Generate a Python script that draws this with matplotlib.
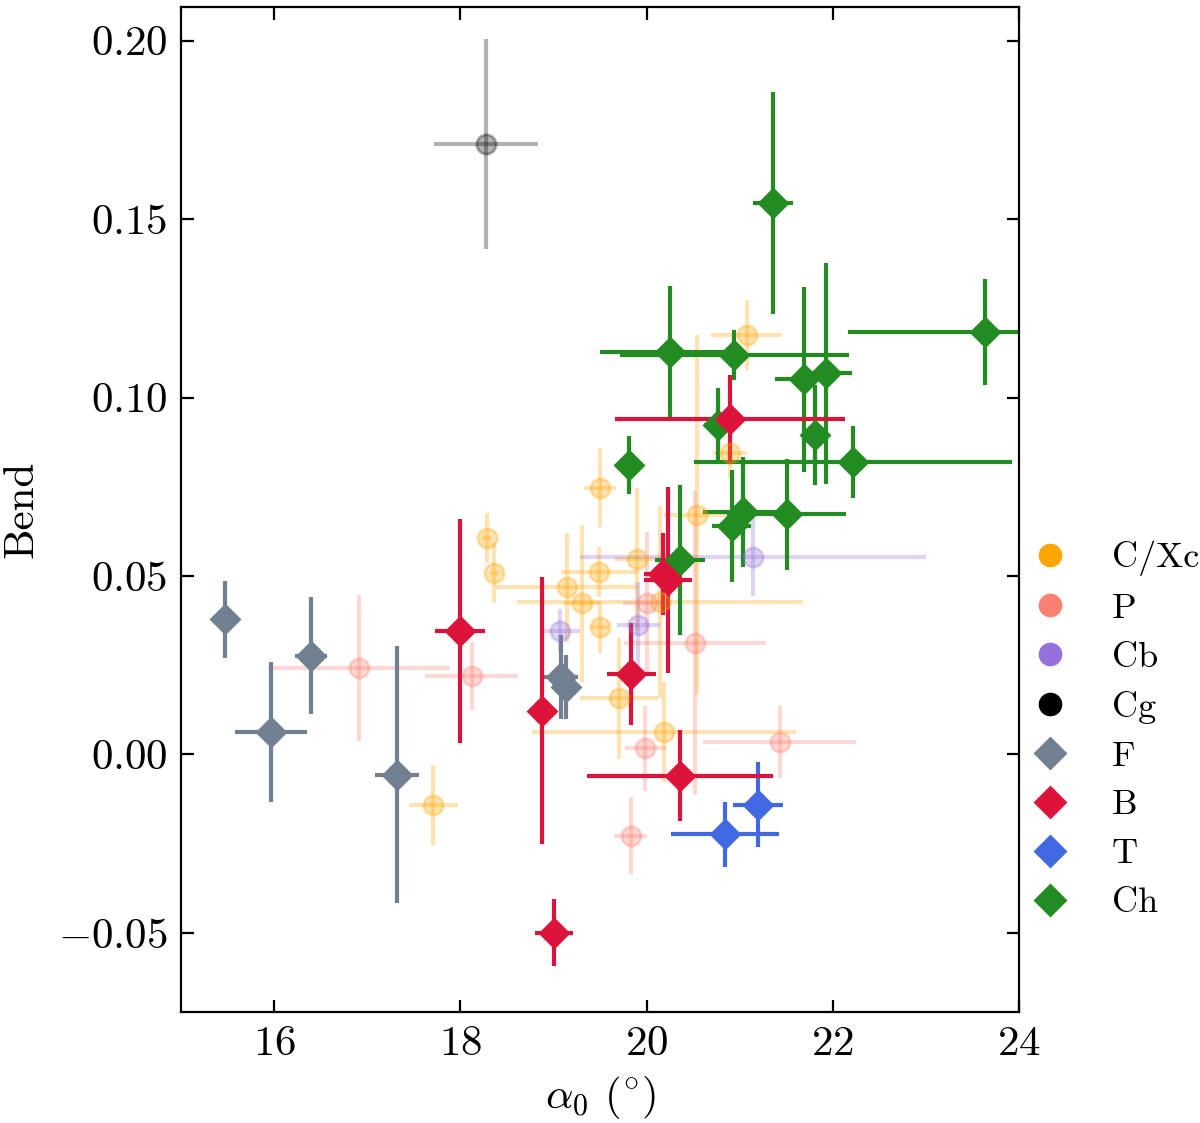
import matplotlib
matplotlib.use("Agg")
import matplotlib.pyplot as plt
from matplotlib.lines import Line2D

plt.rcParams['font.family'] = 'serif'
plt.rcParams['font.serif'] = ['cmr10']
plt.rcParams['mathtext.fontset'] = 'cm'
plt.rcParams['axes.formatter.use_mathtext'] = True
plt.rcParams['axes.unicode_minus'] = True
plt.rcParams['font.size'] = 15.5

# C/Xc
cx_x = [19.50, 18.284, 18.365, 19.143, 19.304, 19.493, 19.901, 19.50, 19.708, 20.539, 20.897, 20.185, 17.71, 21.076, 20.145]
cx_y = [0.0748, 0.0606, 0.0508, 0.0468, 0.0424, 0.0512, 0.0547, 0.0357, 0.0157, 0.067, 0.0844, 0.0064, -0.0142, 0.1175, 0.0427]
cx_xerr = [0.17, 0.05, 0.05, 0.76, 0.19, 0.41, 0.24, 0.10, 0.42, 0.35, 0.18, 1.42, 0.26, 0.38, 1.54]
cx_yerr = [0.0112, 0.007, 0.0084, 0.0152, 0.022, 0.007, 0.02, 0.0074, 0.017, 0.0504, 0.007, 0.014, 0.0113, 0.0097, 0.027]

# P
p_x = [16.909, 18.122, 20.002, 20.521, 19.984, 19.83, 21.431]
p_y = [0.0242, 0.022, 0.0424, 0.0313, 0.0017, -0.0228, 0.0035]
p_xerr = [0.98, 0.5, 0.25, 0.76, 0.22, 0.18, 0.82]
p_yerr = [0.0205, 0.0096, 0.02, 0.0426, 0.0118, 0.0108, 0.0102]

# Cb
cb_x = [19.071, 19.912, 21.147]
cb_y = [0.0347, 0.0363, 0.0554]
cb_xerr = [0.21, 0.23, 1.86]
cb_yerr = [0.006, 0.012, 0.0109]

# Cg
cg_x = [18.276]
cg_y = [0.1711]
cg_xerr = [0.56]
cg_yerr = [0.0294]

# F
f_x = [15.473, 15.967, 16.396, 17.32, 19.076, 19.135]
f_y = [0.0379, 0.0062, 0.0277, -0.0057, 0.0217, 0.0189]
f_xerr = [0.0, 0.39, 0.17, 0.24, 0.19, 0.155]
f_yerr = [0.0108, 0.0196, 0.0163, 0.036, 0.0118, 0.0089]

# B
b_x = [17.994, 18.881, 19.006, 19.837, 20.177, 20.231, 20.363, 20.897]
b_y = [0.0346, 0.0123, -0.0499, 0.0226, 0.0506, 0.0489, -0.0059, 0.0939]
b_xerr = [0.27, 0.0, 0.2, 0.26, 0.2, 0.26, 1.0, 1.235]
b_yerr = [0.0314, 0.0373, 0.0094, 0.0143, 0.0115, 0.026, 0.0127, 0.0123]

# T
t_x = [20.843, 21.201]
t_y = [-0.0224, -0.0141]
t_xerr = [0.58, 0.27]
t_yerr = [0.0091, 0.0119]

# Ch
ch_x = [21.359, 20.252, 20.945, 21.695, 21.925, 23.636, 21.81, 22.221, 20.768, 19.815, 21.506, 20.36, 21.04, 20.915]
ch_y = [0.1544, 0.1129, 0.1119, 0.1051, 0.1068, 0.1184, 0.0895, 0.0819, 0.0923, 0.0811, 0.0673, 0.0545, 0.068, 0.064]
ch_xerr = [0.22, 0.75, 1.23, 0.32, 0.28, 1.47, 0.13, 1.71, 0.15, 0.0, 0.64, 0.27, 0.43, 0.21]
ch_yerr = [0.0311, 0.0184, 0.0069, 0.026, 0.031, 0.0148, 0.014, 0.01, 0.0105, 0.008, 0.0156, 0.0209, 0.0154, 0.0156]

fig = plt.figure(figsize=(6, 5.615), dpi=200)
ax = fig.add_axes([0.151, 0.099, 0.698, 0.895])

# faint classes first
faint = [
    (cx_x, cx_y, cx_xerr, cx_yerr, 'orange'),
    (p_x, p_y, p_xerr, p_yerr, 'salmon'),
    (cb_x, cb_y, cb_xerr, cb_yerr, 'mediumpurple'),
    (cg_x, cg_y, cg_xerr, cg_yerr, 'black'),
]
for xs, ys, xe, ye, col in faint:
    ax.errorbar(xs, ys, xerr=xe, yerr=ye, fmt='o', color=col, ms=7,
                elinewidth=1.5, alpha=0.3, capsize=0)

# bold classes
bold = [
    (f_x, f_y, f_xerr, f_yerr, 'slategray'),
    (t_x, t_y, t_xerr, t_yerr, 'royalblue'),
    (ch_x, ch_y, ch_xerr, ch_yerr, 'forestgreen'),
    (b_x, b_y, b_xerr, b_yerr, 'crimson'),
]
for xs, ys, xe, ye, col in bold:
    ax.errorbar(xs, ys, xerr=xe, yerr=ye, fmt='D', color=col, ms=7,
                elinewidth=1.5, capsize=0)

ax.set_xlim(15, 24)
ax.set_ylim(-0.0721, 0.2095)
ax.set_xticks([16, 18, 20, 22, 24])
ax.set_yticks([-0.05, 0.0, 0.05, 0.10, 0.15, 0.20])
ax.yaxis.set_major_formatter(matplotlib.ticker.FormatStrFormatter(r'$%.2f$'))
ax.xaxis.set_major_formatter(matplotlib.ticker.FormatStrFormatter(r'$%d$'))
ax.tick_params(direction='in', top=True, right=True, length=4.5, width=0.8, pad=5)
for s in ax.spines.values():
    s.set_linewidth(0.8)
ax.set_xlabel(r'$\alpha_0$ ($^{\circ}$)', labelpad=4)
ax.set_ylabel('Bend', labelpad=6)

labels = ['C/Xc', 'P', 'Cb', 'Cg', 'F', 'B', 'T', 'Ch']
colors = ['orange', 'salmon', 'mediumpurple', 'black', 'slategray', 'crimson', 'royalblue', 'forestgreen']
markers = ['o', 'o', 'o', 'o', 'D', 'D', 'D', 'D']
handles = [Line2D([], [], ls='none', marker=m, color=c, ms=7.5) for m, c in zip(markers, colors)]
fig.legend(handles, labels, loc='center left', bbox_to_anchor=(0.833, 0.35),
           frameon=False, fontsize=13, handlelength=1.0, handletextpad=1.2,
           labelspacing=0.46, borderpad=0.4)

fig.savefig('out.png', dpi=200)
